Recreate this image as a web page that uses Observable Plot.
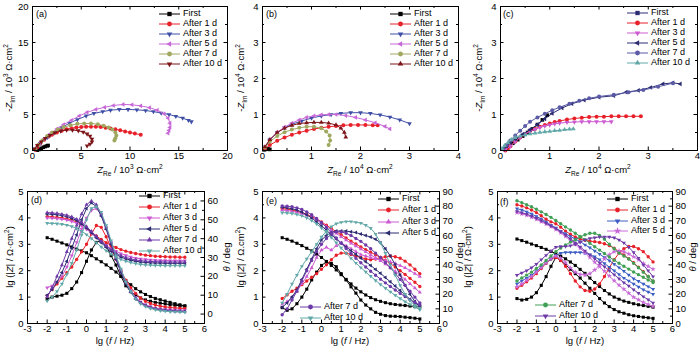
<!DOCTYPE html>
<html><head><meta charset="utf-8">
<script src="https://cdn.jsdelivr.net/npm/d3@7"></script>
<script src="https://cdn.jsdelivr.net/npm/@observablehq/plot@0.6"></script>
<style>
body{margin:0;background:#fff;}
#c{position:relative;width:700px;height:347px;overflow:hidden;font-family:"Liberation Sans",Arial,sans-serif;color:#000;background:#fff;}
.p{position:absolute;}
.lab{position:absolute;font-size:9.5px;white-space:nowrap;line-height:1;}
.cx{transform:translate(-50%,-50%);}
.rot{transform:translate(-50%,-50%) rotate(-90deg);}
.lg{position:absolute;font-size:9px;white-space:nowrap;line-height:1;}
sub,sup{font-size:6.5px;line-height:0;}
</style></head>
<body><div id="c"></div>
<script>
// ---------- Nyquist data (a) Z_Re/Z_Im in 10^3 ohm cm2 ----------
const a_first=[[0.5,0.05],[0.7,0.15],[0.9,0.3],[1.1,0.45],[1.3,0.55],[1.5,0.65],[1.6,0.7]];
const a_1d=[[0.3,0.1],[0.5,0.5],[0.8,1.0],[1.2,1.5],[1.6,1.9],[2.0,2.2],[2.5,2.5],[3.0,2.75],[3.5,2.95],[4.0,3.1],[4.5,3.2],[5.0,3.25],[5.5,3.3],[6.0,3.3],[6.5,3.3],[7.0,3.25],[7.5,3.15],[8.0,3.05],[8.5,2.95],[9.0,2.8],[9.5,2.65],[10.0,2.5],[10.5,2.35],[11.1,2.2]];
const a_3d=[[0.3,0.3],[0.8,1.0],[1.5,1.8],[2.2,2.5],[3.0,3.2],[3.8,3.8],[4.6,4.3],[5.5,4.8],[6.3,5.15],[7.2,5.4],[8.0,5.6],[8.9,5.7],[9.8,5.7],[10.7,5.65],[11.6,5.55],[12.4,5.4],[13.2,5.2],[14.0,5.0],[14.7,4.75],[15.4,4.5],[16.0,4.2],[16.3,4.0]];
const a_5d=[[0.3,0.3],[0.7,0.9],[1.2,1.6],[1.8,2.3],[2.5,3.0],[3.2,3.6],[4.0,4.2],[4.8,4.8],[5.6,5.3],[6.5,5.7],[7.4,6.0],[8.3,6.25],[9.3,6.4],[10.2,6.35],[11.1,6.2],[12.0,5.95],[12.8,5.6],[13.5,5.1],[13.9,4.5],[14.1,3.8],[14.1,3.2],[14.0,2.8],[13.9,2.4]];
const a_7d=[[0.3,0.2],[0.6,0.8],[1.0,1.4],[1.5,2.0],[2.0,2.5],[2.6,2.9],[3.2,3.25],[3.9,3.5],[4.6,3.7],[5.3,3.75],[6.0,3.75],[6.7,3.65],[7.3,3.45],[7.8,3.2],[8.2,2.9],[8.5,2.5],[8.6,2.1],[8.5,1.7],[8.4,1.4]];
const a_10d=[[0.2,0.2],[0.5,0.7],[0.9,1.2],[1.3,1.7],[1.8,2.1],[2.3,2.45],[2.9,2.7],[3.5,2.85],[4.1,2.85],[4.7,2.75],[5.2,2.55],[5.6,2.3],[5.9,2.0],[6.1,1.6],[6.1,1.2],[5.9,0.9],[5.6,0.65]];
// ---------- Nyquist data (b) in 10^4 ohm cm2 ----------
const b_first=[[0.03,0.02],[0.06,0.03],[0.09,0.04],[0.12,0.04],[0.15,0.03]];
const b_1d=[[0.05,0.05],[0.15,0.15],[0.3,0.27],[0.45,0.36],[0.6,0.44],[0.75,0.5],[0.9,0.55],[1.05,0.6],[1.2,0.63],[1.35,0.66],[1.5,0.68],[1.65,0.7],[1.8,0.71],[1.95,0.71],[2.1,0.71],[2.25,0.7],[2.35,0.7]];
const b_3d=[[0.05,0.1],[0.15,0.3],[0.3,0.5],[0.45,0.63],[0.6,0.73],[0.8,0.82],[1.0,0.9],[1.2,0.96],[1.4,1.0],[1.6,1.03],[1.8,1.05],[2.0,1.05],[2.2,1.03],[2.4,0.99],[2.6,0.93],[2.8,0.85],[3.0,0.75]];
const b_5d=[[0.05,0.1],[0.15,0.3],[0.3,0.5],[0.45,0.65],[0.6,0.76],[0.75,0.85],[0.9,0.92],[1.05,0.96],[1.2,0.99],[1.35,1.0],[1.5,1.0],[1.7,0.97],[1.9,0.92],[2.1,0.85],[2.3,0.77],[2.5,0.67],[2.6,0.6]];
const b_7d=[[0.05,0.08],[0.15,0.25],[0.3,0.4],[0.45,0.51],[0.6,0.58],[0.75,0.63],[0.9,0.66],[1.05,0.66],[1.2,0.62],[1.3,0.53],[1.37,0.42],[1.38,0.28],[1.35,0.15]];
const b_10d=[[0.05,0.1],[0.15,0.3],[0.3,0.5],[0.45,0.62],[0.6,0.7],[0.75,0.75],[0.9,0.77],[1.05,0.78],[1.2,0.78],[1.35,0.76],[1.5,0.71],[1.6,0.62],[1.67,0.5],[1.7,0.37]];
// ---------- Nyquist data (c) in 10^4 ohm cm2 ----------
const c_first=[[0.08,0.05],[0.15,0.12],[0.25,0.2],[0.35,0.3],[0.45,0.4],[0.55,0.5],[0.65,0.6],[0.75,0.72],[0.85,0.85],[0.95,0.98]];
const c_1d=[[0.1,0.0],[0.15,0.05],[0.2,0.12],[0.3,0.25],[0.4,0.36],[0.5,0.46],[0.6,0.54],[0.7,0.6],[0.8,0.66],[0.9,0.71],[1.0,0.75],[1.1,0.79],[1.2,0.82],[1.35,0.86],[1.5,0.89],[1.65,0.91],[1.8,0.93],[1.95,0.94],[2.1,0.94],[2.25,0.95],[2.4,0.95],[2.55,0.95],[2.7,0.95],[2.85,0.95]];
const c_3d=[[0.1,0.02],[0.2,0.12],[0.3,0.25],[0.4,0.37],[0.5,0.46],[0.6,0.53],[0.7,0.59],[0.8,0.64],[0.9,0.68],[1.0,0.71],[1.1,0.74],[1.2,0.76],[1.35,0.78],[1.5,0.79],[1.65,0.8],[1.8,0.8],[1.95,0.8],[2.1,0.8],[2.25,0.8]];
const c_5d=[[0.05,0.03],[0.12,0.12],[0.2,0.22],[0.3,0.32],[0.45,0.45],[0.6,0.58],[0.75,0.72],[0.9,0.88],[1.05,1.03],[1.25,1.18],[1.45,1.3],[1.7,1.4],[2.0,1.48],[2.3,1.52],[2.55,1.62],[2.8,1.67],[3.05,1.75],[3.3,1.85],[3.5,1.88],[3.65,1.85]];
const c_7d=[[0.05,0.05],[0.12,0.15],[0.2,0.28],[0.3,0.42],[0.4,0.55],[0.5,0.68],[0.6,0.8],[0.75,0.92],[0.9,1.02],[1.05,1.12],[1.2,1.2],[1.4,1.3],[1.6,1.38],[1.8,1.45],[2.0,1.5],[2.3,1.55],[2.6,1.62],[2.9,1.68],[3.2,1.77],[3.5,1.87]];
const c_10d=[[0.03,0.05],[0.08,0.13],[0.15,0.22],[0.22,0.3],[0.3,0.36],[0.4,0.4],[0.5,0.43],[0.6,0.46],[0.7,0.48],[0.8,0.5],[0.9,0.52],[1.0,0.53],[1.1,0.55],[1.2,0.56],[1.3,0.58],[1.4,0.59],[1.48,0.6]];
// ---------- Bode data: lg f, lg|Z| and phase angle (deg) ----------
const lgF=[-2,-1.75,-1.5,-1.25,-1,-0.75,-0.5,-0.25,0,0.25,0.5,0.75,1,1.25,1.5,1.75,2,2.25,2.5,2.75,3,3.25,3.5,3.75,4,4.25,4.5,4.75,5];
// (d)
const dZ_first=[3.25,3.19,3.12,3.05,2.98,2.9,2.82,2.75,2.68,2.57,2.45,2.34,2.22,2.09,1.95,1.79,1.62,1.47,1.32,1.2,1.1,1.02,0.95,0.9,0.85,0.8,0.75,0.71,0.67];
const dT_first=[8,9,9.5,10,11,13.5,17,22,28,34,38,39,36,31,26,20,15,12,10,8.5,7.5,6.8,6.2,5.8,5.4,5,4.7,4.4,4.2];
const dZ_1d=[4.05,4.04,4.02,4.0,3.97,3.92,3.85,3.75,3.62,3.47,3.32,3.18,3.06,2.96,2.88,2.8,2.74,2.69,2.65,2.62,2.59,2.57,2.55,2.54,2.53,2.52,2.52,2.51,2.51];
const dT_1d=[9.8,13,16,19,22,25,29,33,37,42.5,47,46,41,35,29,23,18,14,11,8.5,6.8,5.6,4.8,4.2,3.8,3.5,3.3,3.1,3.0];
const dZ_3d=[4.0,3.99,3.97,3.95,3.92,3.87,3.8,3.7,3.57,3.42,3.26,3.1,2.96,2.84,2.74,2.65,2.58,2.52,2.48,2.45,2.43,2.41,2.4,2.39,2.39,2.38,2.38,2.38,2.38];
const dT_3d=[14,15,17,20,25,31,38,45,51,55,56,53,46,38,30,23,17,12.5,9,6.5,5,4,3.2,2.8,2.5,2.3,2.2,2.1,2];
const dZ_5d=[4.15,4.14,4.12,4.09,4.05,3.99,3.9,3.78,3.62,3.44,3.25,3.06,2.89,2.74,2.62,2.52,2.45,2.4,2.36,2.33,2.31,2.3,2.29,2.29,2.28,2.28,2.28,2.28,2.28];
const dT_5d=[10,13,17,22,28,35,42,50,56,59,57,52,45,37,29,22,16,11.5,8,6,4.5,3.5,2.8,2.3,2,1.8,1.6,1.5,1.4];
const dZ_7d=[4.2,4.19,4.17,4.14,4.1,4.04,3.95,3.83,3.67,3.49,3.3,3.11,2.94,2.79,2.67,2.57,2.5,2.45,2.41,2.38,2.36,2.35,2.34,2.34,2.33,2.33,2.33,2.33,2.33];
const dT_7d=[9,14,20,26,33,40,47,53,58,60,58,53,46,38,30,23,17,12,8.5,6,4.5,3.5,2.8,2.3,2,1.8,1.6,1.5,1.4];
const dZ_10d=[3.8,3.79,3.78,3.76,3.73,3.68,3.6,3.5,3.37,3.22,3.06,2.9,2.76,2.63,2.52,2.43,2.36,2.31,2.27,2.24,2.22,2.21,2.2,2.2,2.19,2.19,2.19,2.19,2.19];
const dT_10d=[7,9,12,16,21,27,34,42,50,56,57,54,47,39,31,24,17,12,8,5.5,4,3,2.3,1.8,1.5,1.3,1.2,1.1,1];
// (e)
const eZ_first=[3.25,3.19,3.12,3.04,2.95,2.85,2.75,2.63,2.5,2.35,2.2,2.03,1.85,1.67,1.5,1.34,1.2,1.08,0.98,0.9,0.84,0.79,0.75,0.72,0.7,0.68,0.66,0.64,0.63];
const eT_first=[10.8,9,10,13.5,18,23.4,29.7,35,39.6,42,41,38.7,34,29.7,25,20.7,16,12.6,10,7.6,6.3,5.4,5,4.9,4.7,4.3,4,3.6,3.1];
const eZ_1d=[4.35,4.33,4.3,4.25,4.2,4.13,4.05,3.95,3.85,3.72,3.6,3.48,3.36,3.24,3.12,3.01,2.9,2.8,2.7,2.6,2.5,2.39,2.27,2.14,2.0,1.86,1.71,1.56,1.4];
const eT_1d=[17,19.5,22,24,26.5,29,31.5,34,37,40,43.5,46.5,48,48,47,46,45,44,43.5,44,45,45.5,46,45.5,44.5,42.5,40,37,34];
const eZ_3d=[4.3,4.28,4.25,4.21,4.16,4.1,4.02,3.92,3.8,3.67,3.54,3.41,3.28,3.16,3.04,2.93,2.82,2.71,2.6,2.49,2.37,2.25,2.12,1.98,1.83,1.67,1.5,1.34,1.18];
const eT_3d=[13,15,18,22,27,32,38,45,50,52,50,53,55,53,51,49,47,46,45,44,43.5,43,42,41,39.5,38,36,34,32];
const eZ_5d=[4.4,4.38,4.35,4.3,4.22,4.12,4.0,3.85,3.7,3.53,3.36,3.2,3.05,2.9,2.76,2.62,2.48,2.34,2.2,2.05,1.9,1.74,1.58,1.42,1.25,1.08,0.92,0.78,0.65];
const eT_5d=[11,14,18,23,30,37,44,51,57,60,62,63,63,63,62.5,62,61,60,59,57.5,55,51,46,40,33,26,20,15,11];
const eZ_7d=[4.45,4.44,4.42,4.38,4.32,4.23,4.12,3.98,3.82,3.64,3.44,3.24,3.04,2.84,2.65,2.47,2.3,2.14,1.98,1.83,1.68,1.54,1.4,1.27,1.14,1.02,0.9,0.8,0.7];
const eT_7d=[6,10,16,22,29,36,43,49,54,58,61,62.5,62.5,61.5,60,58,56,53.5,51,48,45,41.5,38,34,30,26,22,18,14];
const eZ_10d=[4.2,4.19,4.17,4.13,4.08,4.0,3.9,3.77,3.62,3.45,3.26,3.06,2.86,2.66,2.47,2.29,2.12,1.95,1.79,1.63,1.48,1.34,1.2,1.07,0.95,0.83,0.72,0.62,0.52];
const eT_10d=[14,20,27,33,39,44,49,54,59,63,66,68,69,69.5,69.5,69,68.5,67,65,61,55,48,40,33,26,20,15.5,12.5,10.5];
// (f)
const fZ_first=[3.2,3.14,3.08,3.01,2.95,2.88,2.81,2.73,2.65,2.55,2.45,2.33,2.2,2.05,1.9,1.72,1.55,1.4,1.25,1.12,1.0,0.92,0.85,0.8,0.75,0.71,0.68,0.65,0.62];
const fT_first=[17,16,16.5,18,21,26,32,39,45,43,40,37,34,31,27.5,24,20.5,17,14,11.5,9.5,8,7,6,5.3,4.8,4.3,3.9,3.5];
const fZ_1d=[4.5,4.45,4.38,4.3,4.2,4.08,3.95,3.85,3.78,3.65,3.5,3.38,3.28,3.2,3.15,3.12,3.1,3.07,3.02,2.95,2.85,2.73,2.6,2.45,2.3,2.13,1.96,1.78,1.6];
const fT_1d=[24,26,28.5,31,34,37.5,41,44,45,43,39,34,29,25,22.5,22,23.5,27,32,38,43.5,48,51,52.5,52.5,51,49,45.5,42];
const fZ_3d=[4.35,4.3,4.23,4.15,4.06,3.96,3.85,3.73,3.62,3.5,3.4,3.3,3.2,3.1,2.98,2.87,2.75,2.63,2.5,2.38,2.25,2.12,1.98,1.84,1.7,1.6,1.5,1.4,1.3];
const fT_3d=[27,29,31,33,35.5,38.5,41.5,44,46.5,48,48.5,48.5,48.5,48.5,48,47,45.5,43.5,41,38.5,36,33.5,31,29,27,25,23,21.5,20];
const fZ_5d=[4.2,4.15,4.1,4.03,3.95,3.86,3.77,3.67,3.56,3.44,3.3,3.15,3.0,2.85,2.68,2.5,2.32,2.15,1.98,1.8,1.62,1.45,1.3,1.15,1.0,0.9,0.8,0.72,0.65];
const fT_5d=[25,27,29.5,32,35,38,41.5,44.5,46,44.5,41.5,38,35,33.5,33,34,36.5,40,44,47,49,49.5,49,47.5,45.5,43.5,41,39,37];
const fZ_7d=[4.65,4.58,4.5,4.42,4.33,4.23,4.13,4.02,3.9,3.78,3.66,3.54,3.42,3.3,3.17,3.04,2.91,2.78,2.65,2.52,2.4,2.28,2.17,2.06,1.95,1.85,1.75,1.65,1.55];
const fT_7d=[29,31,33,35,37.5,40,43,46,49,51.5,53.5,55.5,57,59,60.5,61.5,61.5,60,57.5,54,51,48,46,44,41,38,35,32,29];
const fZ_10d=[4.25,4.2,4.14,4.07,3.99,3.9,3.8,3.7,3.6,3.48,3.35,3.2,3.05,2.9,2.75,2.6,2.45,2.3,2.15,2.0,1.85,1.7,1.55,1.42,1.28,1.15,1.02,0.9,0.78];
const fT_10d=[33,34.5,36,38,40.5,43.5,46.5,49.5,52,52.5,52.5,53,54,55.5,57,58,58.5,59,59,59,58.5,57,55,52,48.5,44.5,40,36,32];
// ---------- labels ----------
const seriesNames=["First","After 1 d","After 3 d","After 5 d","After 7 d","After 10 d"];
const ticksA=[0,5,10,15,20], minorA=[2.5,7.5,12.5,17.5];
const ticks4=[0,1,2,3,4], minor4=[0.5,1.5,2.5,3.5];
const ticksF=[-3,-2,-1,0,1,2,3,4,5,6], minorF=[-2.5,-1.5,-0.5,0.5,1.5,2.5,3.5,4.5,5.5];
const ticksZ=[0,1,2,3,4,5], minorZ=[0.5,1.5,2.5,3.5,4.5];
const thetaTicksD=[0,10,20,30,40,50,60];
const thetaTicksEF=[0,10,20,30,40,50,60,70,80,90];

// ---------- symbols ----------
const rad=s=>Math.sqrt(s/Math.PI);
const SQ={draw(c,s){const h=rad(s)*0.9;c.moveTo(-h,-h);c.lineTo(h,-h);c.lineTo(h,h);c.lineTo(-h,h);c.closePath();}};
const CI={draw(c,s){const r=rad(s);c.moveTo(r,0);c.arc(0,0,r,0,2*Math.PI);}};
const TU={draw(c,s){const r=rad(s)*1.35;c.moveTo(0,-r);c.lineTo(r*0.866,r*0.5);c.lineTo(-r*0.866,r*0.5);c.closePath();}};
const TD={draw(c,s){const r=rad(s)*1.35;c.moveTo(0,r);c.lineTo(r*0.866,-r*0.5);c.lineTo(-r*0.866,-r*0.5);c.closePath();}};
const TL={draw(c,s){const r=rad(s)*1.35;c.moveTo(-r,0);c.lineTo(r*0.5,-r*0.866);c.lineTo(r*0.5,r*0.866);c.closePath();}};
const ST=d3.symbolStar;
const symPath=(sym,r)=>{const p=d3.path();sym.draw(p,Math.PI*r*r);return p.toString();};

const K="#000000",RD="#e8202a",BL="#3f4fa6",MG="#c868d8",OL="#a0a860",DR="#7d1418",NV="#2b2c72",PU="#6d3aa8",SP="#5b5aa6",TE="#62a8a8",GR="#3fa055",BL2="#3c5ec4",MG2="#cc5ad2";

const root=document.getElementById("c");
const font='"Liberation Sans",Arial,sans-serif';
const fmt=d=>String(d);

function addHTML(html){root.insertAdjacentHTML("beforeend",html);}
function legend(entries,x,y0,dy){
  entries.forEach((e,i)=>{
    const y=y0+i*dy;
    addHTML(`<svg class="p" style="left:${x}px;top:${y-5}px" width="21" height="10"><line x1="0" y1="5" x2="21" y2="5" stroke="${e.color}" stroke-width="1"/><path transform="translate(10.5,5)" d="${symPath(e.sym,2.4)}" fill="${e.color}"/></svg>`);
    addHTML(`<div class="lg" style="left:${x+24}px;top:${y-5}px">${e.name}</div>`);
  });
}

function frameTicks(W,H,xt,xm,yt,ym,withRightY){
  const m=[];
  m.push(Plot.tickX(xt,{x:d=>d,insetTop:H-3.5,stroke:"#000"}));
  m.push(Plot.tickX(xm,{x:d=>d,insetTop:H-2,stroke:"#000"}));
  m.push(Plot.tickX(xt,{x:d=>d,insetBottom:H-3.5,stroke:"#000"}));
  m.push(Plot.tickX(xm,{x:d=>d,insetBottom:H-2,stroke:"#000"}));
  m.push(Plot.tickY(yt,{y:d=>d,insetRight:W-3.5,stroke:"#000"}));
  m.push(Plot.tickY(ym,{y:d=>d,insetRight:W-2,stroke:"#000"}));
  if(withRightY){
    m.push(Plot.tickY(yt,{y:d=>d,insetLeft:W-3.5,stroke:"#000"}));
    m.push(Plot.tickY(ym,{y:d=>d,insetLeft:W-2,stroke:"#000"}));
  }
  return m;
}

function nyquist(o){
  const W=o.width-o.ml-o.mr, H=o.height-o.mt-o.mb;
  const marks=[];
  o.series.forEach(s=>{
    const pts=s.data.map(([x,y])=>({x,y}));
    marks.push(Plot.line(pts,{x:"x",y:"y",stroke:s.line||s.color,strokeWidth:1,curve:"linear"}));
    marks.push(Plot.dot(pts,{x:"x",y:"y",symbol:s.sym,r:2,fill:s.color}));
  });
  marks.push(...frameTicks(W,H,o.xt,o.xm,o.yt,o.ym,true));
  marks.push(Plot.axisX({ticks:o.xt,tickSize:0,tickPadding:2,tickFormat:fmt,label:null}));
  marks.push(Plot.axisY({ticks:o.yt,tickSize:0,tickPadding:4,tickFormat:fmt,label:null}));
  marks.push(Plot.frame({stroke:"#000",strokeWidth:1}));
  const svg=Plot.plot({width:o.width,height:o.height,marginLeft:o.ml,marginRight:o.mr,marginTop:o.mt,marginBottom:o.mb,
    x:{domain:o.xd},y:{domain:o.yd},style:{fontFamily:font,fontSize:"9.5px",background:"transparent",overflow:"visible"},marks});
  svg.classList.add("p");svg.style.left=o.left+"px";svg.style.top=o.top+"px";
  root.appendChild(svg);
}

function bode(o){
  const W=o.width-o.ml-o.mr, H=o.height-o.mt-o.mb;
  const toL=t=>(t-o.tmin)*5/(o.tmax-o.tmin);
  const marks=[];
  o.series.forEach(s=>{
    const zp=lgF.map((x,i)=>({x,y:s.z[i]}));
    const tp=lgF.map((x,i)=>({x,y:toL(s.t[i])}));
    for(const pts of [zp,tp]){
      marks.push(Plot.line(pts,{x:"x",y:"y",stroke:s.color,strokeWidth:1}));
      marks.push(Plot.dot(pts,{x:"x",y:"y",symbol:s.sym,r:1.7,fill:s.color}));
    }
  });
  const tt=o.thetaTicks.map(toL);
  const tm=o.thetaTicks.slice(0,-1).map(t=>toL(t+5));
  marks.push(...frameTicks(W,H,ticksF,minorF,ticksZ,minorZ,false));
  marks.push(Plot.tickY(tt,{y:d=>d,insetLeft:W-3.5,stroke:"#000"}));
  marks.push(Plot.tickY(tm,{y:d=>d,insetLeft:W-2,stroke:"#000"}));
  marks.push(Plot.axisX({ticks:ticksF,tickSize:0,tickPadding:2,tickFormat:fmt,label:null}));
  marks.push(Plot.axisY({ticks:ticksZ,tickSize:0,tickPadding:4,tickFormat:fmt,label:null}));
  marks.push(Plot.axisY({anchor:"right",ticks:tt,tickSize:0,tickPadding:3,tickFormat:(d,i)=>String(o.thetaTicks[i]),label:null}));
  marks.push(Plot.frame({stroke:"#000",strokeWidth:1}));
  const svg=Plot.plot({width:o.width,height:o.height,marginLeft:o.ml,marginRight:o.mr,marginTop:o.mt,marginBottom:o.mb,
    x:{domain:[-3,6]},y:{domain:[0,5]},style:{fontFamily:font,fontSize:"9.5px",background:"transparent",overflow:"visible"},marks});
  svg.classList.add("p");svg.style.left=o.left+"px";svg.style.top=o.top+"px";
  root.appendChild(svg);
}

// ---- (a) ----
const sA=[{data:a_first,color:K,sym:SQ},{data:a_1d,color:RD,sym:CI},{data:a_3d,color:BL,sym:TD},{data:a_5d,color:MG,sym:TL},{data:a_7d,color:OL,sym:CI},{data:a_10d,color:DR,sym:TD}];
nyquist({left:0,top:0,width:232,height:165,ml:32,mr:5,mt:6,mb:15,xd:[0,20],yd:[0,20],xt:ticksA,xm:minorA,yt:ticksA,ym:minorA,series:sA});
// ---- (b) ----
const sB=[{data:b_first,color:K,sym:SQ},{data:b_1d,color:RD,sym:CI},{data:b_3d,color:BL,sym:TD},{data:b_5d,color:MG,sym:TL},{data:b_7d,color:OL,sym:CI},{data:b_10d,color:DR,sym:TU}];
nyquist({left:230,top:0,width:232,height:165,ml:32,mr:4,mt:6,mb:15,xd:[0,4],yd:[0,4],xt:ticks4,xm:minor4,yt:ticks4,ym:minor4,series:sB});
// ---- (c) ----
const sC=[{data:c_first,color:K,line:NV,sym:SQ},{data:c_1d,color:RD,sym:CI},{data:c_3d,color:MG2,sym:TD},{data:c_5d,color:NV,sym:TL},{data:c_7d,color:SP,sym:CI},{data:c_10d,color:TE,sym:TU}];
nyquist({left:462,top:0,width:238,height:165,ml:38,mr:3,mt:6,mb:15,xd:[0,4],yd:[0,4],xt:ticks4,xm:minor4,yt:ticks4,ym:minor4,series:sC});
// ---- (d) ----
const sD=[{z:dZ_first,t:dT_first,color:K,sym:SQ},{z:dZ_1d,t:dT_1d,color:RD,sym:CI},{z:dZ_3d,t:dT_3d,color:MG2,sym:TD},{z:dZ_5d,t:dT_5d,color:NV,sym:TL},{z:dZ_7d,t:dT_7d,color:PU,sym:TU},{z:dZ_10d,t:dT_10d,color:TE,sym:TD}];
bode({left:0,top:178,width:235,height:159,ml:27,mr:31,mt:13,mb:14,tmin:-5,tmax:65,thetaTicks:thetaTicksD,series:sD});
// ---- (e) ----
const sE=[{z:eZ_first,t:eT_first,color:K,sym:SQ},{z:eZ_1d,t:eT_1d,color:RD,sym:CI},{z:eZ_3d,t:eT_3d,color:MG2,sym:TU},{z:eZ_5d,t:eT_5d,color:NV,sym:TL},{z:eZ_7d,t:eT_7d,color:PU,sym:CI},{z:eZ_10d,t:eT_10d,color:TE,sym:TD}];
bode({left:232,top:178,width:235,height:159,ml:30,mr:28,mt:13,mb:14,tmin:0,tmax:90,thetaTicks:thetaTicksEF,series:sE});
// ---- (f) ----
const sF=[{z:fZ_first,t:fT_first,color:K,sym:SQ},{z:fZ_1d,t:fT_1d,color:RD,sym:CI},{z:fZ_3d,t:fT_3d,color:BL2,sym:TD},{z:fZ_5d,t:fT_5d,color:MG,sym:ST},{z:fZ_7d,t:fT_7d,color:GR,sym:CI},{z:fZ_10d,t:fT_10d,color:PU,sym:TD}];
bode({left:467,top:178,width:233,height:159,ml:30,mr:28,mt:13,mb:14,tmin:0,tmax:90,thetaTicks:thetaTicksEF,series:sF});

// ---- legends ----
const withNames=(arr)=>arr.map((s,i)=>({...s,name:seriesNames[i]}));
legend(withNames(sA),159,14,10);
legend(withNames(sB),390,14,10);
legend(withNames(sC).map((e,i)=>i===0?{...e,color:NV}:e),627,13,10);
legend(withNames(sD),139,196,11);
legend(withNames(sE).slice(0,4),378,199,11.3);
legend(withNames(sE).slice(4),300,307,10.5);
legend(withNames(sF).slice(0,4),607,199,10.8);
legend(withNames(sF).slice(4),535,305,10.8);

// ---- panel letters ----
[["(a)",36,10],["(b)",266,10],["(c)",503,10],["(d)",31,196],["(e)",266,197],["(f)",500,198]].forEach(([t,x,y])=>addHTML(`<div class="lg" style="left:${x}px;top:${y}px">${t}</div>`));

// ---- axis titles ----
const zre=p=>`<i>Z</i><sub>Re</sub> / 10<sup>${p}</sup> Ω·cm<sup>2</sup>`;
const zim=p=>`-<i>Z</i><sub>Im</sub> / 10<sup>${p}</sup> Ω·cm<sup>2</sup>`;
const lgf=`lg (<i>f</i> / Hz)`;
const lgz=s=>`lg (|<i>Z</i>| / Ω${s}cm<sup>2</sup>)`;
const th=`<i>θ</i> / deg`;
[[zre(3),130,170,"cx"],[zim(3),9,78,"rot"],
 [zre(4),360,170,"cx"],[zim(4),241,78,"rot"],
 [zre(4),598,170,"cx"],[zim(4),479,78,"rot"],
 [lgf,115,341,"cx"],[lgz("·"),10,257,"rot"],[th,227,257,"rot"],
 [lgf,350,341,"cx"],[lgz("."),241,257,"rot"],[th,460,257,"rot"],
 [lgf,585,341,"cx"],[lgz("·"),468,257,"rot"],[th,693,257,"rot"]
].forEach(([h,x,y,c])=>addHTML(`<div class="lab ${c}" style="left:${x}px;top:${y}px">${h}</div>`));
</script>
</body></html>
